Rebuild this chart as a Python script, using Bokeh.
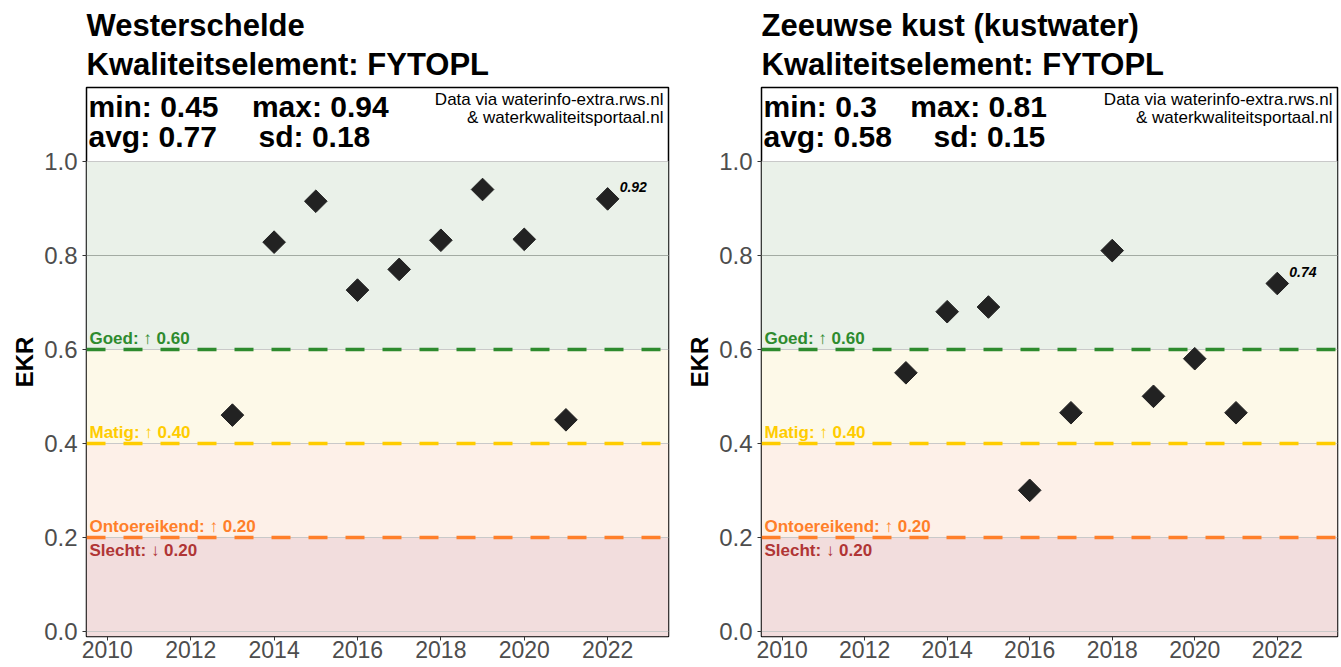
import numpy as np
from bokeh.plotting import figure
from bokeh.models import Range1d, FixedTicker, Title, Label, CustomJSTickFormatter
from bokeh.layouts import row
from bokeh.embed import file_html
from bokeh.resources import INLINE

# ---------------- data ----------------
years = [2013, 2014, 2015, 2016, 2017, 2018, 2019, 2020, 2021, 2022]
westerschelde_ekr = [0.46, 0.828, 0.915, 0.726, 0.77, 0.832, 0.94, 0.834, 0.45, 0.92]
zeeuwse_kust_ekr = [0.55, 0.68, 0.69, 0.30, 0.465, 0.81, 0.50, 0.58, 0.465, 0.74]
water_bodies = ["Westerschelde", "Zeeuwse kust (kustwater)"]
element_title = "Kwaliteitselement: FYTOPL"
x_ticks = [2010, 2012, 2014, 2016, 2018, 2020, 2022]
y_ticks = [0.0, 0.2, 0.4, 0.6, 0.8, 1.0]
class_labels = ["Goed: \u2191 0.60", "Matig: \u2191 0.40", "Ontoereikend: \u2191 0.20", "Slecht: \u2193 0.20"]
class_bounds = [0.6, 0.4, 0.2, 0.2]
band_low = [0.6, 0.4, 0.2]
band_high = [1.0, 0.6, 0.4, 0.2]
source_note = ["Data via waterinfo-extra.rws.nl", "& waterkwaliteitsportaal.nl"]

# ---------------- styling ----------------
FONT = "Liberation Sans"
class_line_colors = ["#2e8b2e", "#ffcc00", "#ff7f2a"]
class_text_colors = ["#2e8b2e", "#ffcc00", "#ff7f2a", "#b03535"]
band_colors = ["#eaf1e9", "#fdf9e8", "#fdf0e8", "#f2dddd"]
xlim = (2009.5, 2023.46)
ylim = (-0.011, 1.157)


def fmt(v):
    r = round(float(v), 2)
    return ("%.2f" % r).rstrip("0").rstrip(".") if r != 0 else "0"


def panel(name, ekr, width, left, right):
    p = figure(width=width, height=667, x_range=Range1d(*xlim), y_range=Range1d(*ylim),
               output_backend="svg", toolbar_location=None,
               min_border_left=left, min_border_right=right, min_border_top=87,
               min_border_bottom=31, background_fill_color="white",
               border_fill_color="white")
    p.outline_line_color = "black"
    p.outline_line_width = 1.5
    p.xgrid.visible = False
    p.ygrid.visible = False

    p.add_layout(Title(text=element_title, text_font=FONT, text_font_size="31px",
                       text_color="black", text_font_style="bold", align="left",
                       standoff=11), "above")
    p.add_layout(Title(text=name, text_font=FONT, text_font_size="31px",
                       text_color="black", text_font_style="bold", align="left",
                       standoff=-7), "above")

    # class bands
    lows = band_low + [ylim[0]]
    p.hstrip(y0=lows, y1=band_high, fill_color=band_colors, line_color=None)
    # grid
    p.hspan(y=y_ticks, line_color="#c9c9c9", line_width=1.2)
    p.hspan(y=[0.8], line_color="#a3aba3", line_width=1.2)
    # class boundaries
    p.hspan(y=class_bounds[:3], line_color=class_line_colors, line_width=3.5,
            line_dash="19 18")

    for i, (lab, b) in enumerate(zip(class_labels, class_bounds)):
        below = i == 3
        p.add_layout(Label(x=xlim[0], y=b, text=lab, x_offset=3,
                           y_offset=-13 if below else 11,
                           text_baseline="middle",
                           text_font=FONT, text_font_size="17px", text_font_style="bold",
                           text_color=class_text_colors[i]))

    p.scatter(years, ekr, marker="square", size=16, angle=np.pi / 4,
              fill_color="#222222", line_color="#222222")
    p.add_layout(Label(x=years[-1], y=ekr[-1], text="%.2f" % ekr[-1], x_offset=12,
                       y_offset=12, text_baseline="middle",
                       text_font=FONT, text_font_size="14px", text_font_style="bold italic",
                       text_color="black"))

    arr = np.array(ekr)
    s1 = "min: %s\u00a0\u00a0\u00a0\u00a0max: %s" % (fmt(arr.min()), fmt(arr.max()))
    s2 = "avg: %s\u00a0\u00a0\u00a0\u00a0\u00a0sd: %s" % (fmt(arr.mean()), fmt(arr.std(ddof=1)))
    for txt, yy in ((s1, 1.116), (s2, 1.052)):
        p.add_layout(Label(x=xlim[0], y=yy, text=txt, x_offset=2, text_font=FONT,
                           text_font_size="30px", text_font_style="bold",
                           text_color="black", text_baseline="middle"))
    for txt, yy in zip(source_note, (1.131, 1.094)):
        p.add_layout(Label(x=xlim[1], y=yy, text=txt, x_offset=-5, text_font=FONT,
                           text_font_size="17px", text_align="right",
                           text_color="black", text_baseline="middle"))

    for ax in (p.xaxis[0], p.yaxis[0]):
        ax.axis_line_color = None
        ax.major_tick_in = 0
        ax.major_tick_out = 4
        ax.minor_tick_out = 0
        ax.minor_tick_in = 0
        ax.major_tick_line_color = "#333333"
        ax.major_label_text_font = FONT
        ax.major_label_text_color = "#4d4d4d"
    p.xaxis.major_label_text_font_size = "23px"
    p.yaxis.major_label_text_font_size = "24px"
    p.xaxis.ticker = FixedTicker(ticks=x_ticks)
    p.yaxis.ticker = FixedTicker(ticks=y_ticks)
    p.xaxis.major_label_standoff = 0
    p.yaxis.major_label_standoff = 5
    p.yaxis.axis_label = "EKR"
    p.yaxis.axis_label_text_font = FONT
    p.yaxis.axis_label_text_font_size = "24px"
    p.yaxis.axis_label_text_font_style = "bold"
    p.yaxis.axis_label_text_color = "black"
    p.yaxis.axis_label_standoff = 3
    p.yaxis.formatter = CustomJSTickFormatter(code="return tick.toFixed(1);")
    return p


p1 = panel(water_bodies[0], westerschelde_ekr, 670, 86, 2)
p2 = panel(water_bodies[1], zeeuwse_kust_ekr, 671, 91, 4)
layout = row(p1, p2)

open("out.html", "w").write(file_html(layout, INLINE))
